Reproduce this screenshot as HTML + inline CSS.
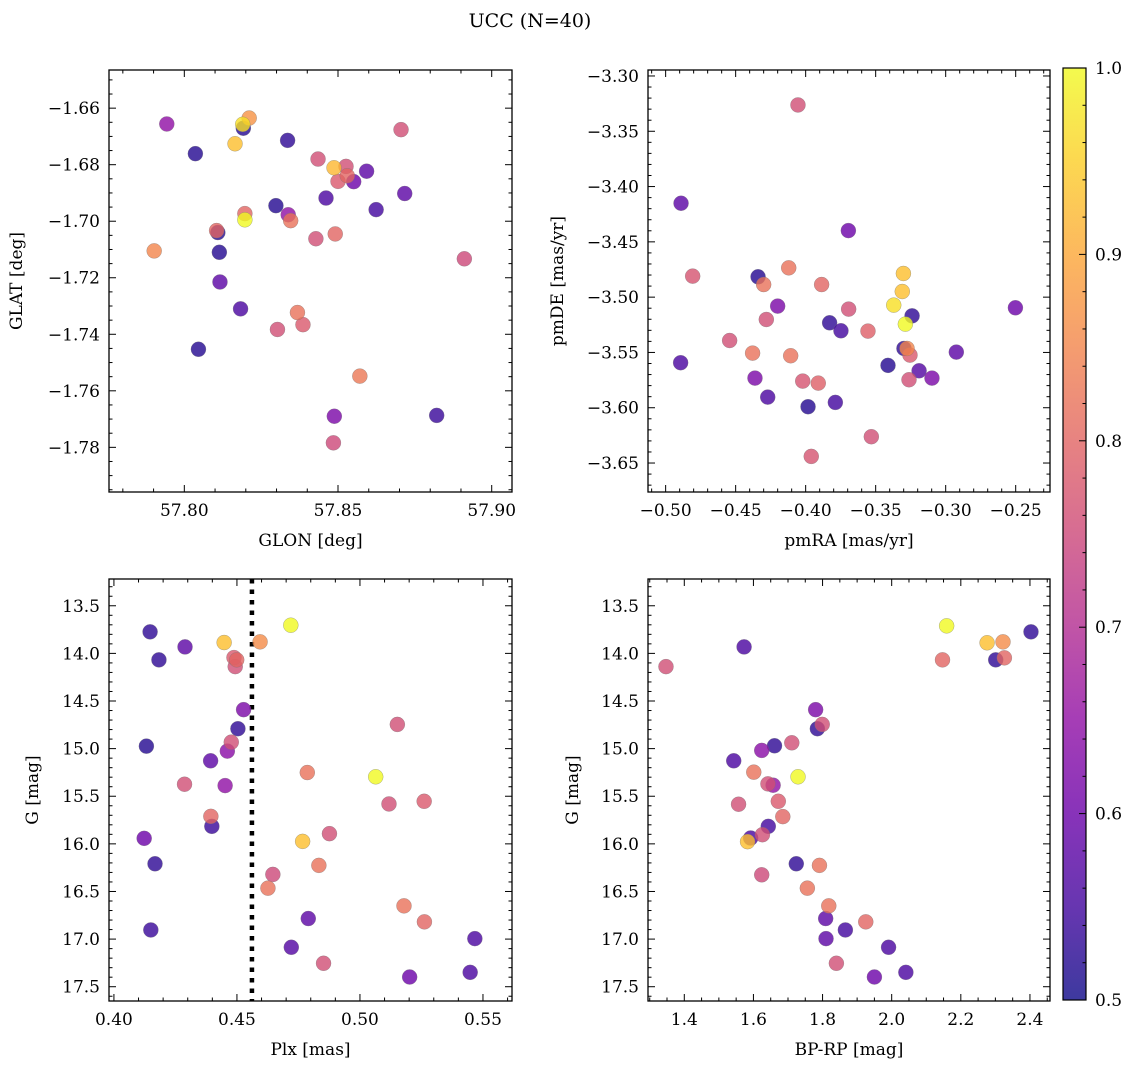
<!DOCTYPE html>
<html><head><meta charset="utf-8"><style>
html,body{margin:0;padding:0;background:#fff;}
svg{display:block;font-family:"DejaVu Serif","Liberation Serif",serif;}
</style></head><body>
<svg id="fig" width="1136" height="1068" viewBox="0 0 1136 1068" xmlns="http://www.w3.org/2000/svg">
<defs>
<linearGradient id="plasma" x1="0" y1="1" x2="0" y2="0">
<stop offset="0" stop-color="#0d0887"/><stop offset="0.1" stop-color="#41049d"/><stop offset="0.2" stop-color="#6a00a8"/><stop offset="0.3" stop-color="#8f0da4"/><stop offset="0.4" stop-color="#b12a90"/><stop offset="0.5" stop-color="#cc4778"/><stop offset="0.6" stop-color="#e16462"/><stop offset="0.7" stop-color="#f2844b"/><stop offset="0.8" stop-color="#fca636"/><stop offset="0.9" stop-color="#fcce25"/><stop offset="1" stop-color="#f0f921"/>
</linearGradient>
</defs>
<text x="530" y="27" font-size="19" text-anchor="middle">UCC (N=40)</text>
</svg>
<script>
// Panel 1: GLON / GLAT
const glon = [57.7943,57.8192,57.8211,57.8190,57.8165,57.8036,57.8336,57.8705,57.8435,57.8487,57.8526,57.8530,57.8500,57.8551,57.8593,57.8461,57.8717,57.8624,57.8298,57.8338,57.8346,57.8197,57.8197,57.8105,57.8109,57.7902,57.8114,57.8428,57.8491,57.8911,57.8116,57.8183,57.8046,57.8368,57.8386,57.8303,57.8571,57.8488,57.8821,57.8485];
const glat = [-1.6656,-1.6671,-1.6635,-1.6657,-1.6726,-1.6761,-1.6714,-1.6676,-1.6780,-1.6811,-1.6806,-1.6839,-1.6859,-1.6860,-1.6823,-1.6918,-1.6902,-1.6959,-1.6945,-1.6977,-1.6998,-1.6973,-1.6995,-1.7033,-1.7040,-1.7105,-1.7110,-1.7062,-1.7045,-1.7133,-1.7215,-1.7310,-1.7453,-1.7323,-1.7366,-1.7383,-1.7548,-1.7690,-1.7687,-1.7784];
const prob1 = [0.65,0.52,0.87,0.97,0.93,0.52,0.53,0.76,0.76,0.92,0.76,0.80,0.78,0.60,0.58,0.56,0.58,0.55,0.52,0.65,0.82,0.80,1.00,0.80,0.52,0.85,0.52,0.76,0.80,0.75,0.58,0.56,0.52,0.82,0.78,0.76,0.83,0.62,0.54,0.75];
// Panel 2: pmRA / pmDE
const pmra = [-0.4055,-0.4890,-0.3695,-0.4807,-0.4340,-0.4300,-0.4121,-0.3886,-0.4200,-0.4281,-0.3693,-0.3829,-0.3748,-0.3555,-0.3302,-0.3310,-0.3371,-0.3240,-0.3288,-0.3298,-0.3276,-0.3255,-0.2502,-0.2924,-0.4543,-0.4893,-0.4379,-0.4107,-0.4362,-0.4271,-0.4021,-0.3910,-0.3983,-0.3788,-0.3412,-0.3190,-0.3262,-0.3098,-0.3531,-0.3960];
const pmde = [-3.3262,-3.4151,-3.4398,-3.4810,-3.4816,-3.4886,-3.4735,-3.4886,-3.5081,-3.5202,-3.5108,-3.5232,-3.5304,-3.5307,-3.4786,-3.4949,-3.5072,-3.5169,-3.5244,-3.5464,-3.5464,-3.5524,-3.5096,-3.5497,-3.5392,-3.5593,-3.5506,-3.5530,-3.5732,-3.5904,-3.5759,-3.5777,-3.5991,-3.5952,-3.5617,-3.5666,-3.5747,-3.5732,-3.6262,-3.6440];
const prob2 = [0.76,0.58,0.60,0.77,0.52,0.82,0.82,0.80,0.62,0.76,0.76,0.53,0.55,0.79,0.93,0.93,0.97,0.53,1.00,0.53,0.85,0.78,0.60,0.58,0.76,0.56,0.82,0.82,0.62,0.56,0.77,0.79,0.52,0.55,0.52,0.57,0.76,0.62,0.76,0.77];
// Panel 3: Plx / G
const plx = [0.4147,0.4289,0.4183,0.4448,0.4594,0.4719,0.4488,0.4499,0.4493,0.4527,0.4504,0.5152,0.4132,0.4477,0.4461,0.4393,0.4786,0.5064,0.4287,0.4452,0.5118,0.5261,0.4394,0.4398,0.4123,0.4767,0.4876,0.4167,0.4833,0.4646,0.4626,0.5179,0.5262,0.4790,0.4150,0.5467,0.4721,0.4852,0.5202,0.5448];
const gmag3 = [13.774,13.932,14.068,13.886,13.879,13.704,14.044,14.068,14.139,14.591,14.791,14.746,14.974,14.932,15.026,15.128,15.251,15.296,15.374,15.388,15.581,15.553,15.711,15.816,15.942,15.974,15.893,16.209,16.226,16.321,16.465,16.651,16.819,16.784,16.904,16.995,17.086,17.254,17.398,17.349];
const prob3 = [0.53,0.58,0.53,0.93,0.86,1.00,0.78,0.80,0.76,0.62,0.53,0.76,0.52,0.76,0.64,0.58,0.82,1.00,0.76,0.65,0.76,0.78,0.80,0.54,0.60,0.93,0.76,0.53,0.82,0.75,0.82,0.82,0.80,0.58,0.54,0.56,0.57,0.76,0.60,0.56];
const plxLine = [0.4561];
// Panel 4: BP-RP / G
const bprp = [1.347,1.573,2.159,2.403,2.276,2.322,2.147,2.301,2.326,1.780,1.799,1.785,1.711,1.624,1.661,1.543,1.601,1.729,1.642,1.657,1.672,1.557,1.685,1.643,1.626,1.592,1.583,1.724,1.791,1.624,1.756,1.818,1.809,1.925,1.866,1.810,1.991,1.840,1.950,2.041];
const gmag4 = [14.139,13.932,13.711,13.774,13.889,13.879,14.068,14.068,14.047,14.591,14.746,14.791,14.939,15.019,14.970,15.128,15.247,15.296,15.370,15.384,15.553,15.584,15.714,15.816,15.904,15.939,15.977,16.209,16.226,16.325,16.465,16.651,16.784,16.819,16.904,16.995,17.086,17.254,17.398,17.349];
const prob4 = [0.76,0.56,1.00,0.53,0.93,0.86,0.80,0.53,0.80,0.62,0.76,0.53,0.76,0.64,0.53,0.56,0.82,1.00,0.76,0.65,0.78,0.76,0.80,0.55,0.76,0.56,0.93,0.53,0.82,0.75,0.82,0.82,0.58,0.80,0.55,0.58,0.56,0.76,0.60,0.56];
// Tick labels
const ticks1x = ["57.80","57.85","57.90"];
const ticks1y = ["-1.66","-1.68","-1.70","-1.72","-1.74","-1.76","-1.78"];
const ticks2x = ["-0.50","-0.45","-0.40","-0.35","-0.30","-0.25"];
const ticks2y = ["-3.30","-3.35","-3.40","-3.45","-3.50","-3.55","-3.60","-3.65"];
const ticks3x = ["0.40","0.45","0.50","0.55"];
const ticksG = ["13.5","14.0","14.5","15.0","15.5","16.0","16.5","17.0","17.5"];
const ticks4x = ["1.4","1.6","1.8","2.0","2.2","2.4"];
const ticksC = ["0.5","0.6","0.7","0.8","0.9","1.0"];

const NS = "http://www.w3.org/2000/svg";
const svg = document.getElementById('fig');
function mk(tag, attrs, parent){ const e=document.createElementNS(NS,tag); for(const k in attrs) e.setAttribute(k,attrs[k]); (parent||svg).appendChild(e); return e; }
const stops=[[0,[13,8,135]],[0.1,[65,4,157]],[0.2,[106,0,168]],[0.3,[143,13,164]],[0.4,[177,42,144]],[0.5,[204,71,120]],[0.6,[225,100,98]],[0.7,[242,132,75]],[0.8,[252,166,54]],[0.9,[252,206,37]],[1,[240,249,33]]];
function cmap(v){ let t=(v-0.5)/0.5; t=Math.max(0,Math.min(1,t)); for(let i=1;i<stops.length;i++){ if(t<=stops[i][0]){ const a=stops[i-1],b=stops[i]; const f=(t-a[0])/(b[0]-a[0]); const c=a[1].map((x,j)=>Math.round(x+(b[1][j]-x)*f)); return `rgb(${c[0]},${c[1]},${c[2]})`; } } return 'rgb(240,249,33)'; }
function fmt(s){ return s.replace('-', '\u2212'); }

function panel(p){
  const g=mk('g',{});
  
  
  const sx=v=>p.x0+(v-p.xd[0])/(p.xd[1]-p.xd[0])*(p.x1-p.x0);
  const sy=v=>p.yInv ? p.y0+(v-p.yd[0])/(p.yd[1]-p.yd[0])*(p.y1-p.y0) : p.y1-(v-p.yd[0])/(p.yd[1]-p.yd[0])*(p.y1-p.y0);
  const fr=mk('rect',{x:p.x0,y:p.y0,width:p.x1-p.x0,height:p.y1-p.y0,fill:'none',stroke:'#000','stroke-width':1.3},g);
  
  
  const xs=Math.ceil(p.xd[0]/p.xmin-1e-6), xe=Math.floor(p.xd[1]/p.xmin+1e-6);
  for(let k=xs;k<=xe;k++){ const v=k*p.xmin; const X=sx(v); const maj=Math.abs(v/p.xmaj-Math.round(v/p.xmaj))<1e-6; const L=maj?7:3.5;
    mk('line',{x1:X,x2:X,y1:p.y1,y2:p.y1-L,stroke:'#000','stroke-width':1},g); mk('line',{x1:X,x2:X,y1:p.y0,y2:p.y0+L,stroke:'#000','stroke-width':1},g); }
  p.xt.forEach(s=>{ const X=sx(parseFloat(s)); const t=mk('text',{x:X,y:p.y1+24,'font-size':17,'text-anchor':'middle'},g); t.textContent=fmt(s);
      });
  const ys=Math.ceil(Math.min(p.yd[0],p.yd[1])/p.ymin-1e-6), ye=Math.floor(Math.max(p.yd[0],p.yd[1])/p.ymin+1e-6);
  for(let k=ys;k<=ye;k++){ const v=k*p.ymin; const Y=sy(v); const maj=Math.abs(v/p.ymaj-Math.round(v/p.ymaj))<1e-6; const L=maj?7:3.5;
    mk('line',{x1:p.x0,x2:p.x0+L,y1:Y,y2:Y,stroke:'#000','stroke-width':1},g); mk('line',{x1:p.x1,x2:p.x1-L,y1:Y,y2:Y,stroke:'#000','stroke-width':1},g); }
  p.yt.forEach(s=>{ const Y=sy(parseFloat(s)); const t=mk('text',{x:p.x0-9,y:Y+6,'font-size':17,'text-anchor':'end'},g); t.textContent=fmt(s);
      });
  const xl=mk('text',{x:(p.x0+p.x1)/2,y:p.y1+54,'font-size':17,'text-anchor':'middle'},g); xl.textContent=p.xlab;
   
  const yc=(p.y0+p.y1)/2; const yl=mk('text',{x:p.ylx,y:yc,'font-size':17,'text-anchor':'middle',transform:`rotate(-90 ${p.ylx} ${yc})`},g); yl.textContent=p.ylab;
   
  if(p.vline){ p.vline.forEach(v=>{ const X=sx(v); const l=mk('line',{x1:X,x2:X,y1:p.y0,y2:p.y1,stroke:'#000','stroke-width':4.5,'stroke-dasharray':'4.5 6'},g);
      }); }
  const order=p.xs.map((_,i)=>i).sort((a,b)=>p.c[a]-p.c[b]);
  order.forEach(i=>{ const c=mk('circle',{cx:sx(p.xs[i]),cy:sy(p.ys[i]),r:7.5,fill:cmap(p.c[i]),'fill-opacity':0.8,stroke:'#777','stroke-width':0.5,'stroke-opacity':0.6},g);
      });
}
panel({name:'glon-glat-panel',x0:109,x1:512,y0:70,y1:492,xd:[57.7755,57.9066],yd:[-1.7958,-1.6465],xmaj:0.05,xmin:0.01,ymaj:0.02,ymin:0.005,xt:ticks1x,yt:ticks1y,xs:glon,ys:glat,c:prob1,xlab:'GLON [deg]',ylab:'GLAT [deg]',ylx:22});
panel({name:'pm-panel',x0:648,x1:1050,y0:70,y1:492,xd:[-0.5126,-0.2255],yd:[-3.6762,-3.2946],xmaj:0.05,xmin:0.01,ymaj:0.05,ymin:0.01,xt:ticks2x,yt:ticks2y,xs:pmra,ys:pmde,c:prob2,xlab:'pmRA [mas/yr]',ylab:'pmDE [mas/yr]',ylx:563});
panel({name:'plx-g-panel',x0:109,x1:512,y0:579,y1:1001,xd:[0.3980,0.5618],yd:[13.219,17.65],yInv:true,xmaj:0.05,xmin:0.01,ymaj:0.5,ymin:0.1,xt:ticks3x,yt:ticksG,xs:plx,ys:gmag3,c:prob3,xlab:'Plx [mas]',ylab:'G [mag]',ylx:38,vline:plxLine});
panel({name:'cmd-panel',x0:648,x1:1050,y0:579,y1:1001,xd:[1.295,2.458],yd:[13.219,17.65],yInv:true,xmaj:0.2,xmin:0.05,ymaj:0.5,ymin:0.1,xt:ticks4x,yt:ticksG,xs:bprp,ys:gmag4,c:prob4,xlab:'BP-RP [mag]',ylab:'G [mag]',ylx:578});

// colorbar
const cb=mk('g',{});


const cbx0=1063,cbx1=1086,cby0=68,cby1=1000;
mk('rect',{x:cbx0,y:cby0,width:cbx1-cbx0,height:cby1-cby0,fill:'url(#plasma)','fill-opacity':0.8},cb);
mk('rect',{x:cbx0,y:cby0,width:cbx1-cbx0,height:cby1-cby0,fill:'none',stroke:'#000','stroke-width':1.2},cb);
const cy=v=>cby1-(v-0.5)/0.5*(cby1-cby0);
for(let k=25;k<=50;k++){ const v=k*0.02; if(v>1.0001) break; const maj=(k%5===0); mk('line',{x1:cbx1,x2:cbx1-(maj?7:3.5),y1:cy(v),y2:cy(v),stroke:'#000','stroke-width':1},cb); }
ticksC.forEach(s=>{ const t=mk('text',{x:cbx1+9,y:cy(parseFloat(s))+6,'font-size':17},cb); t.textContent=s;
    });
</script>
</body></html>
